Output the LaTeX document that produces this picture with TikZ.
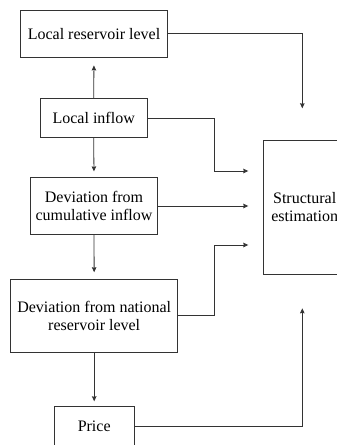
\documentclass[tikz,border=0pt]{standalone}
\usepackage{fontspec}
\setmainfont{Liberation Serif}
\usepackage{tikz}
\usetikzlibrary{calc, arrows.meta}

\tikzset{
	box/.style={draw=black!80, line width=0.8pt, align=center, inner sep=0pt,
		font=\fontsize{16}{18.5}\selectfont},
	arr/.style={-{Stealth[length=5pt, width=4.5pt, inset=0.5pt]}, draw=black!80, line width=0.8pt}
}

\begin{document}
\begin{tikzpicture}[x=1pt, y=-1pt]
		\useasboundingbox (0,0) rectangle (337,445);
		\clip (0,0) rectangle (337,445);
		
		\node [box, minimum width=146.6pt, minimum height=47.3pt] (res) at (94,33.7) {Local reservoir level};
		\node [box, minimum width=107.3pt, minimum height=39.4pt] (inflow) at (93.7,118) {Local inflow};
		\node [box, minimum width=126.6pt, minimum height=57pt] (cum) at (94,206) {Deviation from\\cumulative inflow};
		\node [box, minimum width=167pt, minimum height=73.7pt] (nat) at (94.2,315.8) {Deviation from national\\reservoir level};
		\node [box, minimum width=80.3pt, minimum height=41.4pt] (price) at (94.2,426.7) {Price};
		\node [box, minimum width=82.7pt, minimum height=134pt] (est) at (304.7,207) {Structural\\estimation};
		
		% free ends near the estimation box
		\coordinate (top) at (302.3,108.3);
		\coordinate (bot) at (302.3,308.3);
		\coordinate (j1) at (214.3,171);
		\coordinate (j2) at (214.3,245);
		\coordinate (e1) at (248.3,171);
		\coordinate (e2) at (248.3,206);
		\coordinate (e3) at (248.3,245);
		
		\draw [arr, shorten >=7.7pt] (inflow.north) -- (res.south);
		\draw [arr, shorten >=5.7pt] (inflow.south) -- (cum.north);
		\draw [arr, shorten >=6.3pt] (cum.south) -- (nat.north);
		\draw [arr, shorten >=4.3pt] (nat.south) -- (price.north);
		
		\draw [arr] (res.east) -| (top);
		\draw [arr] (inflow.east) -| (j1) -- (e1);
		\draw [arr] (cum.east) -- (cum.east -| e2);
		\draw [arr] (nat.east) -| (j2) -- (e3);
		\draw [arr] (price.east) -| (bot);
	\end{tikzpicture}
\end{document}
